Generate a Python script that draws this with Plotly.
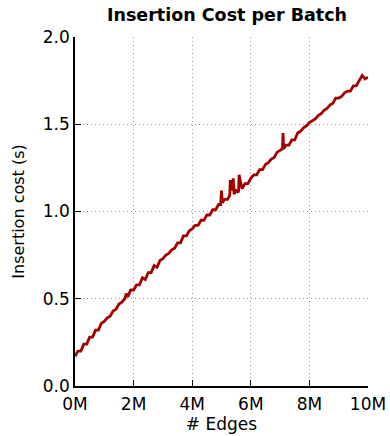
import plotly.graph_objects as go

edges_m = [0.0, 0.1, 0.2, 0.3, 0.4, 0.5, 0.6, 0.7, 0.8, 0.9,
           1.0, 1.1, 1.2, 1.3, 1.4, 1.5, 1.6, 1.7, 1.75, 1.8, 1.9,
           2.0, 2.1, 2.2, 2.3, 2.4, 2.5, 2.6, 2.7, 2.8, 2.9,
           3.0, 3.1, 3.2, 3.3, 3.4, 3.5, 3.6, 3.7, 3.8, 3.9,
           4.0, 4.1, 4.2, 4.3, 4.4, 4.5, 4.6, 4.7, 4.8, 4.9,
           4.97, 5.0, 5.03, 5.1, 5.2, 5.28, 5.3, 5.35, 5.4, 5.43, 5.5, 5.58, 5.6, 5.65, 5.7, 5.8, 5.9,
           6.0, 6.1, 6.2, 6.3, 6.4, 6.5, 6.6, 6.7, 6.8, 6.9,
           7.0, 7.08, 7.1, 7.12, 7.2, 7.3, 7.4, 7.5, 7.6, 7.7, 7.8, 7.9,
           8.0, 8.1, 8.2, 8.3, 8.4, 8.5, 8.6, 8.7, 8.8, 8.9,
           9.0, 9.1, 9.2, 9.3, 9.4, 9.5, 9.6, 9.7, 9.8, 9.9, 10.0]

cost_s = [0.17, 0.20, 0.20, 0.24, 0.24, 0.28, 0.28, 0.32, 0.32, 0.36,
          0.37, 0.39, 0.40, 0.43, 0.44, 0.47, 0.48, 0.50, 0.53, 0.51, 0.55,
          0.55, 0.58, 0.58, 0.62, 0.61, 0.65, 0.65, 0.69, 0.68, 0.72,
          0.73, 0.75, 0.76, 0.78, 0.79, 0.82, 0.82, 0.86, 0.86, 0.89,
          0.90, 0.92, 0.92, 0.95, 0.95, 0.98, 0.98, 1.01, 1.01, 1.04,
          1.04, 1.12, 1.05, 1.07, 1.07, 1.09, 1.18, 1.12, 1.19, 1.10, 1.12, 1.11, 1.21, 1.17, 1.13, 1.16, 1.16,
          1.19, 1.21, 1.21, 1.24, 1.24, 1.27, 1.28, 1.30, 1.31, 1.34,
          1.35, 1.36, 1.45, 1.36, 1.38, 1.38, 1.41, 1.41, 1.45, 1.46, 1.48, 1.49,
          1.51, 1.52, 1.53, 1.55, 1.56, 1.58, 1.59, 1.61, 1.62, 1.65,
          1.65, 1.66, 1.68, 1.69, 1.69, 1.72, 1.72, 1.75, 1.78, 1.76, 1.77]

x_tick_vals = [0, 2, 4, 6, 8, 10]
x_tick_text = ["0M", "2M", "4M", "6M", "8M", "10M"]
y_tick_vals = [0.0, 0.5, 1.0, 1.5, 2.0]
y_tick_text = ["0.0", "0.5", "1.0", "1.5", "2.0"]

fig = go.Figure()
fig.add_trace(go.Scatter(x=edges_m, y=cost_s, mode="lines",
                         line=dict(color="#a30000", width=2.8),
                         showlegend=False))

font_family = "DejaVu Sans, sans-serif"
axis_common = dict(
    showline=True, linecolor="black", linewidth=1.5,
    ticks="inside", ticklen=6, tickcolor="black", tickwidth=1.2,
    showgrid=True, gridcolor="#9a9a9a", griddash="1px,3px", gridwidth=1,
    zeroline=False, mirror=False, automargin=False,
    tickfont=dict(family=font_family, size=17, color="black"),
)

fig.update_layout(
    width=390, height=436,
    margin=dict(l=75, r=22, t=37, b=50),
    paper_bgcolor="white", plot_bgcolor="white",
    title=dict(text="<b>Insertion Cost per Batch</b>", x=0.582, xanchor="center",
               xref="container", y=1 - 15 / 436, yref="container", yanchor="middle",
               font=dict(family=font_family, size=17.5, color="black")),
    xaxis=dict(range=[0, 10], tickvals=x_tick_vals, ticktext=x_tick_text,
               ticklabelstandoff=2,
               title=dict(text="# Edges", standoff=5,
                          font=dict(family=font_family, size=17, color="black")),
               **axis_common),
    yaxis=dict(range=[0, 2], tickvals=y_tick_vals, ticktext=y_tick_text,
               title=dict(text="Insertion cost (s)", standoff=14,
                          font=dict(family=font_family, size=16, color="black")),
               **axis_common),
)

fig.write_html("out.html", config={"displayModeBar": False},
               post_script="document.body.style.margin='0';")
